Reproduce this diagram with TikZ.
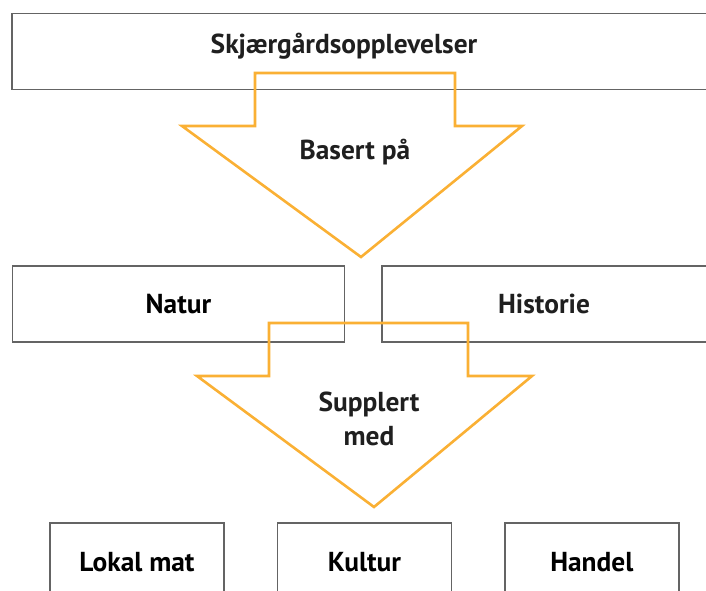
\documentclass[tikz,border=0pt]{standalone}
\usepackage{fontspec}
\setmainfont{PT Sans}
\usetikzlibrary{positioning}

\definecolor{arroworange}{RGB}{250,176,52}
\definecolor{boxgray}{RGB}{100,100,100}

\begin{document}
\begin{tikzpicture}[
  x=1pt, y=-1pt,
  font=\fontsize{27.4}{34}\selectfont\bfseries,
  block/.style={draw=boxgray, line width=1.4pt, minimum height=76pt, inner sep=0pt, fill=white},
  txt/.style={text=black!88, align=center, inner sep=0pt},
  bigarrow/.style={draw=arroworange, line width=2.6pt, line join=miter}
]
\useasboundingbox (0,0) rectangle (706,591);
\clip (0,0) rectangle (706,591);

% ----- TOP BOX -----
\node[block, minimum width=720pt] (b0) at (372,51.5) {};
\node[txt] (t0) at (344,46) {Skjærgårdsopplevelser};

% ----- MIDDLE BOXES -----
\node[block, minimum width=332pt] (b1) at (178.5,304) {Natur};
\node[block, minimum width=340pt] (b2) at (552,304) {};
\node[txt] (t2) at (544,304) {Historie};

% ----- BOTTOM BOXES -----
\node[block, minimum width=174pt, minimum height=78pt] (c1) at (137,562) {Lokal mat};
\node[block, minimum width=174pt, minimum height=78pt, right=52pt of c1] (c2) {Kultur};
\node[block, minimum width=174pt, minimum height=78pt, right=52pt of c2] (c3) {Handel};

% ----- ARROWS -----
\draw[bigarrow] (255,73) -- (455,73) -- (455,126) -- (522,126) -- (361,257)
  -- (182,126) -- (255,126) -- cycle;
\node[txt] (a1) at (355,152) {Basert på};

\draw[bigarrow] (269,323) -- (468,323) -- (468,376) -- (532,376) -- (374,507)
  -- (197,376) -- (269,376) -- cycle;
\node[txt] (a2) at (369,419) {Supplert\\med};

\end{tikzpicture}
\end{document}
